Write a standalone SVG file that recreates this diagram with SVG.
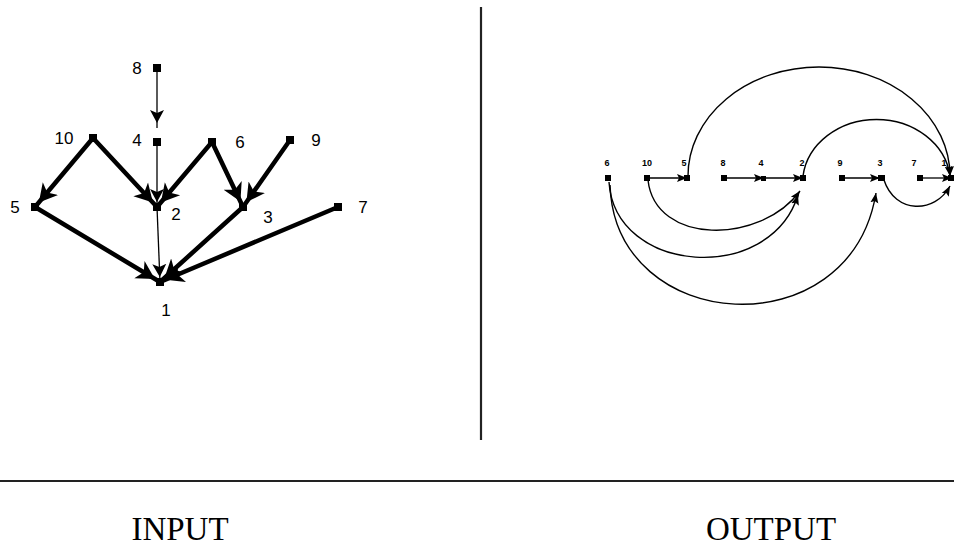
<svg xmlns="http://www.w3.org/2000/svg" width="954" height="548" viewBox="0 0 954 548">
<style>
.bg{fill:#fff}
.thick{stroke:#000;stroke-width:4.5;fill:none;stroke-linecap:round}
.thin{stroke:#000;stroke-width:1.3;fill:none}
.arc{stroke:#000;stroke-width:1.4;fill:none}
.nd{fill:#000}
.lbl{font-family:"Liberation Sans",Arial,sans-serif;font-size:17px;fill:#000;text-anchor:middle}
.slbl{font-family:"Liberation Sans",Arial,sans-serif;font-size:9px;font-weight:bold;fill:#000;text-anchor:middle}
.cap{font-family:"Liberation Serif","Times New Roman",serif;font-size:33px;fill:#000;text-anchor:middle}
.rule{stroke:#222;stroke-width:2.2}
</style>
<defs>
<marker id="big" markerUnits="userSpaceOnUse" markerWidth="30" markerHeight="22" viewBox="0 0 30 22" refX="24" refY="11" orient="auto">
<path d="M0,1 L18,11 L0,21 L5,11 z" fill="#000"/>
</marker>
<marker id="mid" markerUnits="userSpaceOnUse" markerWidth="24" markerHeight="16" viewBox="0 0 24 16" refX="18" refY="8" orient="auto">
<path d="M0,1 L13,8 L0,15 L3,8 z" fill="#000"/>
</marker>
<marker id="sm" markerUnits="userSpaceOnUse" markerWidth="12" markerHeight="10" viewBox="0 0 12 10" refX="10" refY="5" orient="auto">
<path d="M0,1 L10,5 L0,9 L2,5 z" fill="#000"/>
</marker>
</defs>
<rect class="bg" x="0" y="0" width="954" height="548"/>

<g id="frame">
<line class="rule" x1="481" y1="7" x2="481" y2="440"/>
<line class="rule" x1="0" y1="481" x2="954" y2="481"/>
<text class="cap" x="180" y="540">INPUT</text>
<text class="cap" x="771" y="540">OUTPUT</text>
</g>

<g id="input-connectors">
<line class="thin" x1="157" y1="68" x2="157" y2="128" marker-end="url(#mid)"/>
<line class="thin" x1="157" y1="142" x2="157" y2="207" marker-end="url(#mid)"/>
<line class="thin" x1="157" y1="207" x2="160" y2="282" marker-end="url(#mid)"/>
<line class="thick" x1="93" y1="138" x2="35" y2="207" marker-end="url(#big)"/>
<line class="thick" x1="93" y1="138" x2="157" y2="207" marker-end="url(#big)"/>
<line class="thick" x1="212" y1="142" x2="157" y2="207" marker-end="url(#big)"/>
<line class="thick" x1="212" y1="142" x2="243" y2="207" marker-end="url(#big)"/>
<line class="thick" x1="290" y1="140" x2="243" y2="207" marker-end="url(#big)"/>
<line class="thick" x1="35" y1="207" x2="160" y2="282" marker-end="url(#big)"/>
<line class="thick" x1="243" y1="207" x2="160" y2="282" marker-end="url(#big)"/>
<line class="thick" x1="338" y1="207" x2="160" y2="282" marker-end="url(#big)"/>
</g>

<g id="in-8"><rect class="nd" x="153" y="64" width="8" height="8"/><text class="lbl" x="137" y="74">8</text></g>
<g id="in-4"><rect class="nd" x="153" y="138" width="8" height="8"/><text class="lbl" x="137" y="146">4</text></g>
<g id="in-10"><rect class="nd" x="89" y="134" width="8" height="8"/><text class="lbl" x="64" y="144">10</text></g>
<g id="in-6"><rect class="nd" x="208" y="138" width="8" height="8"/><text class="lbl" x="240" y="148">6</text></g>
<g id="in-9"><rect class="nd" x="286" y="136" width="8" height="8"/><text class="lbl" x="316" y="146">9</text></g>
<g id="in-5"><rect class="nd" x="31" y="203" width="8" height="8"/><text class="lbl" x="15" y="213">5</text></g>
<g id="in-2"><rect class="nd" x="153" y="203" width="8" height="8"/><text class="lbl" x="176" y="220">2</text></g>
<g id="in-3"><rect class="nd" x="239" y="203" width="8" height="8"/><text class="lbl" x="268" y="223">3</text></g>
<g id="in-7"><rect class="nd" x="334" y="203" width="8" height="8"/><text class="lbl" x="363" y="213">7</text></g>
<g id="in-1"><rect class="nd" x="156" y="278" width="8" height="8"/><text class="lbl" x="166" y="316">1</text></g>

<g id="output-connectors">
<line class="thin" x1="647" y1="178" x2="687" y2="178" marker-end="url(#sm)"/>
<line class="thin" x1="724" y1="178" x2="764" y2="178" marker-end="url(#sm)"/>
<line class="thin" x1="764" y1="178" x2="803" y2="178" marker-end="url(#sm)"/>
<line class="thin" x1="842" y1="178" x2="880" y2="178" marker-end="url(#sm)"/>
<line class="thin" x1="920" y1="178" x2="952" y2="178" marker-end="url(#sm)"/>
<path class="arc" d="M688,176 A131,109 0 0 1 950,176" marker-end="url(#sm)"/>
<path class="arc" d="M803,176 A74,64 0 0 1 950,176" marker-end="url(#sm)"/>
<path class="arc" d="M648,180 C655,245 760,245 800,191" marker-end="url(#sm)"/>
<path class="arc" d="M609,182 C615,275 770,285 798,195" marker-end="url(#sm)"/>
<path class="arc" d="M610,185 C615,335 850,350 876,193" marker-end="url(#sm)"/>
<path class="arc" d="M884,180 C895,214 935,214 950,186" marker-end="url(#sm)"/>
</g>

<g id="out-6"><rect class="nd" x="605" y="175" width="6" height="6"/><text class="slbl" x="607" y="166">6</text></g>
<g id="out-10"><rect class="nd" x="644" y="175" width="6" height="6"/><text class="slbl" x="647" y="166">10</text></g>
<g id="out-5"><rect class="nd" x="684" y="175" width="6" height="6"/><text class="slbl" x="684" y="166">5</text></g>
<g id="out-8"><rect class="nd" x="721" y="175" width="6" height="6"/><text class="slbl" x="723" y="166">8</text></g>
<g id="out-4"><rect class="nd" x="761" y="176" width="5" height="5"/><text class="slbl" x="761" y="166">4</text></g>
<g id="out-2"><rect class="nd" x="800" y="175" width="6" height="6"/><text class="slbl" x="802" y="166">2</text></g>
<g id="out-9"><rect class="nd" x="839" y="175" width="6" height="6"/><text class="slbl" x="840" y="166">9</text></g>
<g id="out-3"><rect class="nd" x="878" y="175" width="7" height="6"/><text class="slbl" x="880" y="166">3</text></g>
<g id="out-7"><rect class="nd" x="917" y="175" width="6" height="6"/><text class="slbl" x="914" y="166">7</text></g>
<g id="out-1"><rect class="nd" x="948" y="175" width="6" height="6"/><text class="slbl" x="944" y="166">1</text></g>
</svg>
